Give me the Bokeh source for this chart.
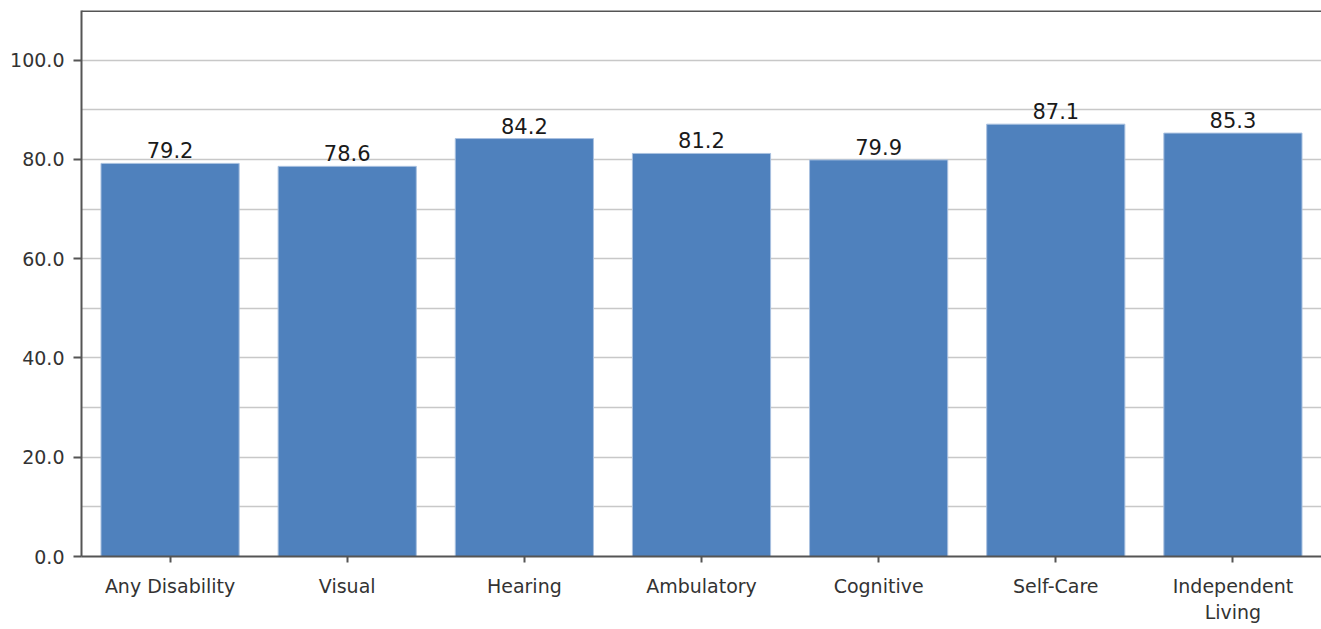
from bokeh.plotting import figure
from bokeh.models import ColumnDataSource, FixedTicker, Span, FactorRange, Range1d, CustomJSTickFormatter
from bokeh.core.properties import value
from bokeh.embed import file_html
from bokeh.resources import INLINE

categories = ["Any Disability", "Visual", "Hearing", "Ambulatory", "Cognitive", "Self-Care", "Independent\nLiving"]
values = [79.2, 78.6, 84.2, 81.2, 79.9, 87.1, 85.3]
y_ticks = [0, 20, 40, 60, 80, 100]
grid_ticks = [10, 20, 30, 40, 50, 60, 70, 80, 90, 100]

src = ColumnDataSource(dict(cat=categories, val=values, lab=["%.1f" % v for v in values]))

p = figure(x_range=FactorRange(*categories, range_padding=0), y_range=Range1d(0, 110),
           width=1321, height=629, output_backend="svg", toolbar_location=None,
           min_border_left=81, min_border_right=0, min_border_top=10, min_border_bottom=73)
p.outline_line_color = None

p.vbar(x="cat", top="val", bottom=0, width=0.78, source=src,
       fill_color="#4f81bd", line_color="#a9c1e0", line_width=1)

p.text(x="cat", y="val", text="lab", source=src, text_align="center",
       text_baseline="alphabetic", y_offset=-13, text_font_size="21px",
       text_color="#1a1a1a", text_font=value("DejaVu Sans"))

p.xgrid.grid_line_color = None
p.ygrid.ticker = FixedTicker(ticks=grid_ticks)
p.ygrid.grid_line_color = "#c8c8c8"
p.ygrid.grid_line_width = 1.5

p.yaxis.ticker = FixedTicker(ticks=y_ticks)
p.yaxis.formatter = CustomJSTickFormatter(code="return tick.toFixed(1);")
for ax in (p.xaxis, p.yaxis):
    ax.axis_line_color = "#555555"
    ax.axis_line_width = 2
    ax.major_tick_line_color = "#555555"
    ax.major_tick_line_width = 2
    ax.minor_tick_line_color = None
    ax.major_tick_in = 0
    ax.major_label_text_font = "DejaVu Sans"
    ax.major_label_text_font_size = "19px"
    ax.major_label_text_color = "#333333"
p.yaxis.major_tick_out = 8
p.yaxis.major_label_standoff = 9
p.xaxis.major_tick_out = 6
p.xaxis.major_label_standoff = 12

p.add_layout(Span(location=110, dimension="width", line_color="#555555", line_width=3))

open("out.html", "w").write(file_html(p, INLINE))
